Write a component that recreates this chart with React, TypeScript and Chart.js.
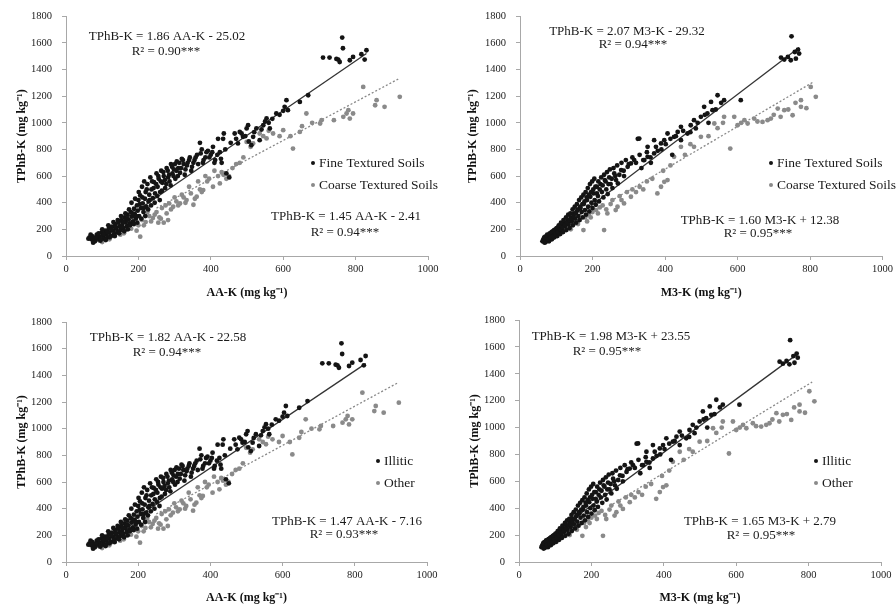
import React, { useEffect, useRef } from "react";
import { Chart, registerables } from "chart.js";
Chart.register(...registerables);

// ---------- data ----------
const xTicks = [0, 200, 400, 600, 800, 1000];
const yTicks = [0, 200, 400, 600, 800, 1000, 1200, 1400, 1600, 1800];

const aaFine: [number, number][] = [
  [65,140],[70,125],[72,150],[78,135],[80,110],[85,160],[88,130],[92,145],[95,115],[98,175],[102,150],[105,130],[108,190],[112,160],[115,140],[118,205],[120,175],[124,150],[127,220],[130,190],[133,165],[136,240],[139,205],[142,180],[145,255],[148,225],[150,195],[153,270],[156,240],[159,210],[162,290],[165,255],[168,225],[170,310],[173,275],[176,245],[179,330],[182,295],[185,260],[188,355],[190,315],[193,280],[196,380],[198,340],[200,420],[202,300],[205,455],[207,360],[210,520],[212,395],[214,330],[216,560],[218,430],[220,480],[222,370],[225,540],[228,410],[230,460],[233,590],[236,500],[240,435],[243,555],[246,470],[250,620],[253,520],[256,580],[260,480],[263,640],[266,550],[270,600],[274,510],[278,660],[282,590],[286,560],[290,690],[294,620],[298,650],[302,580],[306,710],[310,660],[315,625],[320,730],[325,690],[330,650],[336,700],[342,740],[348,670],[355,720],[362,760],[370,850],[375,800],[378,700],[385,740],[392,790],[400,760],[406,820],[412,720],[420,880],[425,780],[430,700],[436,920],[443,620],[451,590],[466,920],[475,845],[480,932],[489,895],[499,958],[503,982],[512,832],[517,895],[526,958],[535,870],[545,982],[554,1033],[563,958],[581,1070],[604,1120],[609,1170],[613,1095],[646,1157],[669,1207],[710,1490],[728,1490],[747,1480],[752,1475],[756,1457],[763,1640],[765,1560],[784,1470],[793,1495],[816,1515],[825,1475],[830,1545],
  [62,130],[68,160],[75,100],[83,140],[90,170],[96,125],[100,200],[104,165],[110,120],[114,180],[117,230],[121,140],[126,200],[131,255],[135,150],[138,215],[143,270],[147,170],[152,300],[155,215],[158,255],[161,185],[164,320],[167,280],[171,200],[174,350],[177,230],[181,400],[184,320],[187,240],[191,430],[194,300],[197,250],[201,480],[204,390],[208,280],[211,440],[215,360],[219,300],[223,500],[227,350],[231,420],[235,380],[238,560],[242,510],[245,400],[249,540],[252,450],[255,600],[259,420],[262,560],[265,490],[269,630],[273,570],[277,540],[281,640],[285,610],[289,530],[293,670],[297,600],[301,690],[305,640],[309,600],[313,700],[318,660],[323,720],[328,610],[334,680],[340,720],[346,640],[352,700],[358,740],[365,690],[372,770],[380,720],[388,780],[396,740],[404,780],[410,700],[418,760],[428,730],[434,880],[440,800],[455,850],[470,880],[485,920],[495,900],[505,860],[520,930],[540,950],[550,1010],[560,1000],[570,1030],[590,1060],[600,1090]
];
const aaCoarse: [number, number][] = [
  [90,120],[100,105],[110,140],[120,125],[130,150],[140,175],[150,160],[160,190],[170,215],[180,205],[190,240],[200,230],[205,145],[210,270],[220,255],[230,300],[240,285],[250,330],[258,290],[265,360],[270,250],[278,320],[285,395],[296,370],[305,410],[315,395],[325,440],[333,420],[345,470],[352,385],[361,445],[370,500],[379,495],[390,560],[406,520],[425,545],[435,610],[443,580],[460,660],[480,700],[499,857],[517,845],[535,920],[554,883],[572,920],[590,900],[600,945],[627,807],[646,932],[652,975],[664,1070],[702,995],[706,1020],[766,1045],[775,1070],[780,1095],[784,1032],[793,1070],[821,1270],[854,1132],[858,1170],[880,1120],[922,1195],
  [160,170],[175,250],[195,190],[215,230],[225,330],[235,260],[245,310],[255,250],[262,280],[275,380],[282,270],[290,350],[300,440],[310,380],[320,460],[330,400],[340,520],[356,430],[365,560],[375,480],[385,600],[395,580],[410,640],[420,600],[430,630],[450,600],[470,690],[490,740],[510,820],[545,900],[560,940],[620,900],[680,1000],[740,1020]
];
const m3Fine: [number, number][] = [
  [62,110],[66,130],[68,100],[70,145],[73,120],[75,160],[78,135],[80,110],[82,170],[85,150],[88,125],[90,185],[93,160],[95,140],[98,200],[100,175],[103,150],[106,215],[108,190],[111,165],[114,235],[116,205],[119,180],[122,250],[125,225],[128,195],[131,270],[134,240],[137,210],[140,290],[143,260],[146,230],[149,320],[152,280],[155,250],[158,340],[161,300],[164,270],[167,360],[170,330],[173,290],[176,390],[179,345],[182,310],[185,420],[188,370],[191,335],[194,445],[197,400],[200,360],[203,470],[206,420],[209,385],[212,520],[215,450],[218,410],[222,540],[226,480],[230,440],[234,570],[238,500],[242,465],[246,590],[250,540],[255,510],[260,620],[265,570],[270,545],[279,645],[287,600],[297,670],[306,695],[315,720],[325,880],[329,882],[335,660],[343,720],[352,745],[352,820],[361,700],[370,770],[370,870],[380,790],[389,845],[398,870],[407,920],[420,760],[425,895],[435,932],[444,970],[444,870],[462,920],[471,982],[480,1020],[485,958],[499,1045],[508,1120],[517,1070],[527,1157],[531,1095],[545,1207],[563,1170],[609,1170],[720,1490],[729,1475],[739,1495],[747,1470],[749,1650],[758,1532],[761,1482],[767,1550],[770,1520],
  [64,120],[67,140],[71,105],[74,150],[77,125],[81,160],[84,140],[87,180],[91,150],[94,195],[97,165],[101,210],[104,180],[107,230],[110,200],[113,250],[117,215],[120,270],[124,235],[127,290],[130,250],[133,310],[136,270],[139,320],[142,280],[145,350],[148,300],[151,370],[154,320],[157,390],[160,350],[163,420],[166,370],[169,440],[172,390],[175,460],[178,410],[181,480],[184,440],[187,510],[190,460],[193,540],[196,480],[199,560],[202,500],[205,580],[208,520],[212,470],[216,560],[220,500],[224,590],[228,530],[232,610],[236,560],[240,630],[244,540],[248,650],[253,580],[258,660],[263,600],[268,680],[274,610],[280,700],[286,640],[292,720],[300,690],[310,740],[320,700],[330,760],[340,720],[350,780],[360,740],[375,820],[390,800],[402,840],[415,880],[430,900],[450,940],[470,930],[490,1000],[510,1060],[520,1000],[540,1100],[555,1150]
];
const m3Coarse: [number, number][] = [
  [75,115],[85,130],[95,150],[105,165],[115,180],[125,200],[135,215],[145,235],[155,250],[165,270],[175,195],[180,290],[190,310],[200,330],[210,345],[220,365],[232,195],[241,320],[250,390],[264,345],[269,370],[280,420],[287,395],[306,445],[320,480],[340,500],[379,470],[389,520],[398,557],[407,570],[425,745],[444,820],[480,820],[499,895],[536,995],[563,1045],[580,807],[591,1045],[600,982],[619,1020],[628,995],[646,1032],[669,1007],[683,1020],[692,1032],[711,1107],[719,1045],[729,1095],[752,1057],[775,1120],[775,1170],[802,1270],[816,1195],
  [140,200],[160,240],[185,260],[195,290],[215,320],[228,380],[238,350],[255,420],[275,450],[295,480],[310,500],[330,520],[350,560],[365,580],[395,640],[415,680],[455,760],[470,840],[520,900],[545,960],[560,1000],[610,1000],[655,1010],[700,1060],[740,1100],[760,1150],[790,1110]
];

// trend line end points [x0, y0, x1, y1]
const trendTL_solid = [70, 105, 830, 1520];
const trendTL_dot = [250, 360, 920, 1332];
const trendTR_solid = [65, 105, 770, 1565];
const trendTR_dot = [250, 412, 810, 1308];
const trendBL_solid = [70, 105, 830, 1488];
const trendBL_dot = [250, 360, 920, 1345];
const trendBR_solid = [65, 152, 770, 1548];
const trendBR_dot = [250, 415, 810, 1339];

const FONT = "'Liberation Serif', 'Times New Roman', serif";

type TextItem = { t: string; x: number; y: number; align?: CanvasTextAlign };
type Panel = {
  left: number; top: number; w: number; h: number;
  yW: number; xH: number; padTop: number; padRight: number; yTitlePad: number;
  xTitle: string; fine: [number, number][]; coarse: [number, number][];
  labels: [string, string]; solid: number[]; dot: number[];
  texts: TextItem[]; legendX: number; legendY: [number, number];
};

const panels: Panel[] = [
  {
    left: 0, top: 0, w: 448, h: 300, yW: 66, xH: 44, padTop: 16, padRight: 20, yTitlePad: 15,
    xTitle: "AA-K (mg kg⁻¹)", fine: aaFine, coarse: aaCoarse,
    labels: ["Fine Textured Soils", "Coarse Textured Soils"], solid: trendTL_solid, dot: trendTL_dot,
    texts: [
      { t: "TPhB-K = 1.86 AA-K - 25.02", x: 167, y: 37 },
      { t: "R² = 0.90***", x: 166, y: 52 },
      { t: "TPhB-K = 1.45 AA-K - 2.41", x: 346, y: 217 },
      { t: "R² = 0.94***", x: 345, y: 233 },
    ],
    legendX: 313, legendY: [163, 185],
  },
  {
    left: 448, top: 0, w: 448, h: 300, yW: 72, xH: 44, padTop: 16, padRight: 13, yTitlePad: 18,
    xTitle: "M3-K (mg kg⁻¹)", fine: m3Fine, coarse: m3Coarse,
    labels: ["Fine Textured Soils", "Coarse Textured Soils"], solid: trendTR_solid, dot: trendTR_dot,
    texts: [
      { t: "TPhB-K = 2.07 M3-K - 29.32", x: 179, y: 32 },
      { t: "R² = 0.94***", x: 185, y: 45 },
      { t: "TPhB-K = 1.60 M3-K + 12.38", x: 312, y: 221 },
      { t: "R² = 0.95***", x: 310, y: 234 },
    ],
    legendX: 323, legendY: [163, 185],
  },
  {
    left: 0, top: 300, w: 448, h: 305, yW: 66, xH: 43, padTop: 22, padRight: 21, yTitlePad: 15,
    xTitle: "AA-K (mg kg⁻¹)", fine: aaFine, coarse: aaCoarse,
    labels: ["Illitic", "Other"], solid: trendBL_solid, dot: trendBL_dot,
    texts: [
      { t: "TPhB-K = 1.82 AA-K - 22.58", x: 168, y: 38 },
      { t: "R² = 0.94***", x: 167, y: 53 },
      { t: "TPhB-K = 1.47 AA-K - 7.16", x: 347, y: 222 },
      { t: "R² = 0.93***", x: 344, y: 235 },
    ],
    legendX: 378, legendY: [161, 183],
  },
  {
    left: 448, top: 300, w: 448, h: 305, yW: 71, xH: 43, padTop: 20, padRight: 15, yTitlePad: 20,
    xTitle: "M3-K (mg kg⁻¹)", fine: m3Fine, coarse: m3Coarse,
    labels: ["Illitic", "Other"], solid: trendBR_solid, dot: trendBR_dot,
    texts: [
      { t: "TPhB-K = 1.98 M3-K + 23.55", x: 163, y: 37 },
      { t: "R² = 0.95***", x: 159, y: 52 },
      { t: "TPhB-K = 1.65 M3-K + 2.79", x: 312, y: 222 },
      { t: "R² = 0.95***", x: 313, y: 236 },
    ],
    legendX: 368, legendY: [161, 183],
  },
];

const FINE_COLOR = "#141414";
const COARSE_COLOR = "#8a8a8a";

function PanelChart({ p }: { p: Panel }) {
  const ref = useRef<HTMLCanvasElement | null>(null);
  useEffect(() => {
    if (!ref.current) return;
    const textPlugin = {
      id: "annot",
      afterDatasetsDraw(chart: any) {
        const ctx = chart.ctx;
        ctx.save();
        ctx.fillStyle = "#1a1a1a";
        ctx.font = `13px ${FONT}`;
        ctx.textBaseline = "middle";
        for (const it of p.texts) {
          ctx.textAlign = it.align || "center";
          ctx.fillText(it.t, it.x, it.y);
        }
        // legend
        const cols = [FINE_COLOR, COARSE_COLOR];
        ctx.font = `13.5px ${FONT}`;
        p.labels.forEach((lab, i) => {
          ctx.beginPath();
          ctx.fillStyle = cols[i];
          ctx.arc(p.legendX, p.legendY[i], 2, 0, Math.PI * 2);
          ctx.fill();
          ctx.fillStyle = "#1a1a1a";
          ctx.textAlign = "left";
          ctx.fillText(lab, p.legendX + 6, p.legendY[i]);
        });
        ctx.restore();
      },
    };
    const fmt = (v: any) => String(v);
    const chart = new Chart(ref.current, {
      type: "scatter",
      data: {
        datasets: [
          {
            label: p.labels[0],
            data: p.fine.map(([x, y]) => ({ x, y })),
            backgroundColor: FINE_COLOR,
            borderColor: FINE_COLOR,
            pointRadius: 2.4,
            borderWidth: 0,
          },
          {
            label: p.labels[1],
            data: p.coarse.map(([x, y]) => ({ x, y })),
            backgroundColor: COARSE_COLOR,
            borderColor: COARSE_COLOR,
            pointRadius: 2.4,
            borderWidth: 0,
          },
          {
            label: "fit1",
            data: [{ x: p.solid[0], y: p.solid[1] }, { x: p.solid[2], y: p.solid[3] }],
            showLine: true,
            borderColor: "#333",
            borderWidth: 1.3,
            pointRadius: 0,
          } as any,
          {
            label: "fit2",
            data: [{ x: p.dot[0], y: p.dot[1] }, { x: p.dot[2], y: p.dot[3] }],
            showLine: true,
            borderColor: "#888",
            borderDash: [2, 2],
            borderWidth: 1.3,
            pointRadius: 0,
          } as any,
        ],
      },
      options: {
        responsive: false,
        animation: false,
        events: [],
        layout: { padding: { top: p.padTop, right: p.padRight, left: 0, bottom: 0 } },
        plugins: { legend: { display: false }, tooltip: { enabled: false } },
        scales: {
          x: {
            type: "linear",
            min: 0,
            max: 1000,
            afterFit: (a: any) => { a.height = p.xH; },
            afterBuildTicks: (a: any) => { a.ticks = xTicks.map((v) => ({ value: v })); },
            grid: { drawOnChartArea: false, drawTicks: true, tickLength: 4, color: "#a8a8a8" },
            border: { color: "#a8a8a8", width: 1 },
            ticks: { color: "#222", font: { family: FONT, size: 10.5 }, padding: 3, maxRotation: 0, callback: fmt },
            title: {
              display: true,
              text: p.xTitle,
              color: "#111",
              font: { family: FONT, size: 12, weight: "bold" },
              padding: { top: 0, bottom: 0 },
            },
          },
          y: {
            type: "linear",
            min: 0,
            max: 1800,
            afterFit: (a: any) => { a.width = p.yW; },
            afterBuildTicks: (a: any) => { a.ticks = yTicks.map((v) => ({ value: v })); },
            grid: { drawOnChartArea: false, drawTicks: true, tickLength: 4, color: "#a8a8a8" },
            border: { color: "#a8a8a8", width: 1 },
            ticks: { color: "#222", font: { family: FONT, size: 10.5 }, padding: 10, callback: fmt },
            title: {
              display: true,
              text: "TPhB-K (mg kg⁻¹)",
              color: "#111",
              font: { family: FONT, size: 12, weight: "bold" },
              padding: { top: p.yTitlePad, bottom: 0 },
            },
          },
        },
      } as any,
      plugins: [textPlugin],
    });
    return () => chart.destroy();
  }, [p]);
  return (
    <canvas
      ref={ref}
      width={p.w}
      height={p.h}
      style={{ position: "absolute", left: p.left, top: p.top, width: p.w, height: p.h }}
    />
  );
}

export default function App() {
  return (
    <div style={{ position: "fixed", left: 0, top: 0, width: 896, height: 605, background: "#fff" }}>
      {panels.map((p, i) => (
        <PanelChart key={i} p={p} />
      ))}
    </div>
  );
}
